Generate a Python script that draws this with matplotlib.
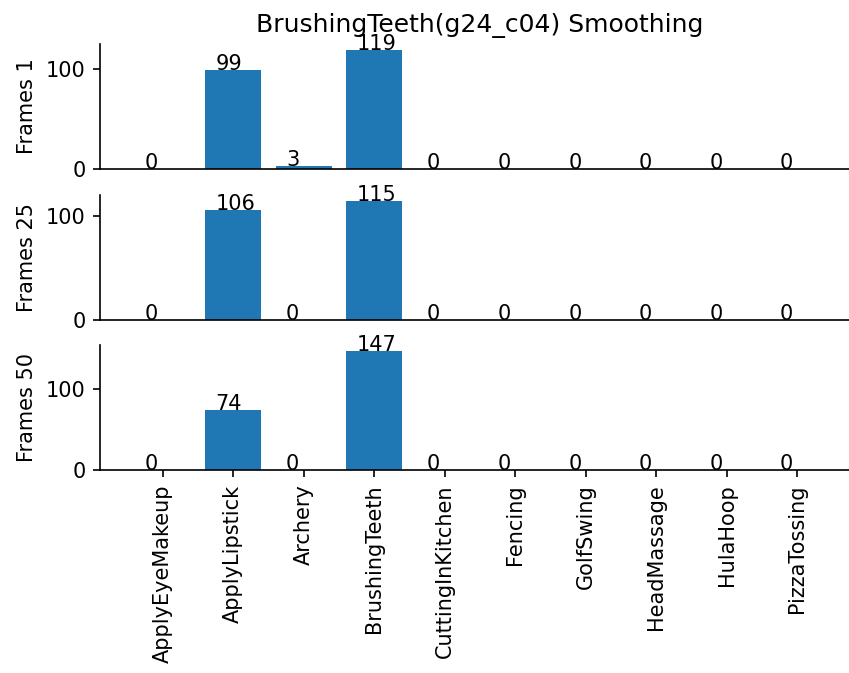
import matplotlib
matplotlib.use('Agg')
import matplotlib.pyplot as plt

# class names along the x axis
classes = ['ApplyEyeMakeup', 'ApplyLipstick', 'Archery', 'BrushingTeeth',
           'CuttingInKitchen', 'Fencing', 'GolfSwing', 'HeadMassage',
           'HulaHoop', 'PizzaTossing']

# prediction counts per smoothing window
frames_1 = [0, 99, 3, 119, 0, 0, 0, 0, 0, 0]
frames_25 = [0, 106, 0, 115, 0, 0, 0, 0, 0, 0]
frames_50 = [0, 74, 0, 147, 0, 0, 0, 0, 0, 0]

panel_labels = ['Frames 1', 'Frames 25', 'Frames 50']
title = 'BrushingTeeth(g24_c04) Smoothing'

dpi = 150
fig = plt.figure(figsize=(849 / dpi, 673 / dpi), dpi=dpi)

# axes placement in pixels (top-origin bottoms), converted to figure fractions
W, H = 849, 673
left_px, width_px, height_px = 100, 760, 125
bottoms_px = [169, 320, 470]

x = list(range(len(classes)))
axes = []
for row, (counts, label, b) in enumerate(zip([frames_1, frames_25, frames_50],
                                             panel_labels, bottoms_px)):
    ax = fig.add_axes([left_px / W, (H - b) / H, width_px / W, height_px / H])
    ax.bar(x, counts, width=0.8, color='#1f77b4')
    for i, v in enumerate(counts):
        ax.text(i - 0.25, v, str(v))
    ax.set_ylim(0, max(counts) * 1.05)
    ax.set_yticks([0, 100])
    ax.set_ylabel(label)
    ax.spines['top'].set_visible(False)
    ax.spines['right'].set_visible(False)
    ax.set_xlim(-0.89, len(classes) - 1 + 0.89)
    if row < 2:
        ax.set_xticks([])
    else:
        ax.set_xticks(x)
        ax.set_xticklabels(classes, rotation=90)
    axes.append(ax)

axes[0].set_title(title)

fig.savefig('out.png', dpi=dpi)
